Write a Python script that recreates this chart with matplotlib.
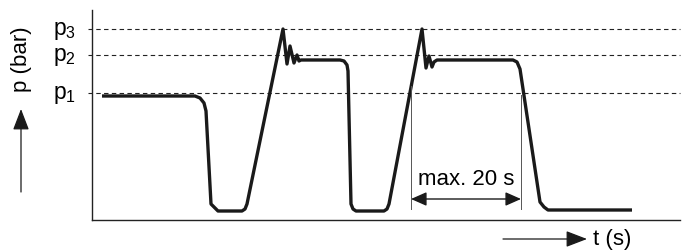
import matplotlib
matplotlib.use('Agg')
import matplotlib.pyplot as plt

plt.rcParams['font.family'] = ['Liberation Sans', 'DejaVu Sans']
plt.rcParams['mathtext.fontset'] = 'custom'
plt.rcParams['mathtext.rm'] = 'Liberation Sans'

# Pressure levels (arbitrary units) and their labels
level_values = [127, 165, 191]
level_labels = ['p$_\\mathregular{1}$', 'p$_\\mathregular{2}$', 'p$_\\mathregular{3}$']

# Pressure curve over time (arbitrary units)
t = [10, 103, 108, 112, 114, 119, 124, 126, 150, 153, 155,
     191, 195, 198, 202, 205, 207, 209, 248, 252, 255, 256,
     259, 261, 264, 292, 295, 297,
     330, 334, 337, 340, 342, 345, 421, 425, 428,
     448, 452, 456, 540]
p = [124, 124, 122, 117, 109, 16, 11, 9, 9, 11, 16,
     191, 156, 174, 157, 165, 159, 160, 160, 159, 155, 149,
     16, 11, 9, 9, 11, 16,
     191, 152, 164, 153, 158, 160, 160, 158, 151,
     18, 13, 10, 10]

# Dimension "max. 20 s"
dim_start, dim_end = 319, 429
dim_start_top, dim_end_top = 134, 125
dim_bottom = 11
dim_arrow_y = 21

fig = plt.figure(figsize=(6.85, 2.51), dpi=100)
ax = fig.add_axes([92 / 685, 30 / 251, 588 / 685, 210 / 251])
ax.set_xlim(0, 588)
ax.set_ylim(0, 210)

for s in ['top', 'right']:
    ax.spines[s].set_visible(False)
for s in ['left', 'bottom']:
    ax.spines[s].set_linewidth(1.0)
    ax.spines[s].set_color('#222222')
ax.set_xticks([])
ax.set_yticks([])

# dashed reference levels
for val, lab in zip(level_values, level_labels):
    ax.plot([-4, 588], [val, val], color='#222222', lw=0.8,
            linestyle=(0, (4, 3)), clip_on=False)
    ax.text(-16, val - 1, lab, ha='right', va='center', fontsize=16.5, clip_on=False)

# the pressure curve
ax.plot(t, p, color='#1a1a1a', lw=2.4, solid_joinstyle='round',
        solid_capstyle='butt')

# dimension lines
ax.plot([dim_start, dim_start], [dim_bottom, dim_start_top], color='#555555', lw=0.7)
ax.plot([dim_end, dim_end], [dim_bottom, dim_end_top], color='#555555', lw=0.7)
ax.annotate('', xy=(dim_start, dim_arrow_y), xytext=(dim_end, dim_arrow_y),
            arrowprops=dict(arrowstyle='<|-|>,head_length=0.95,head_width=0.42',
                            color='#1a1a1a', lw=1.0, shrinkA=0, shrinkB=0))
ax.text((dim_start + dim_end) / 2, 41, 'max. 20 s', ha='center', va='center',
        fontsize=16)

# axis arrows and labels
ax.annotate('', xy=(-71, 111), xytext=(-71, 28), annotation_clip=False,
            arrowprops=dict(arrowstyle='-|>,head_length=1.3,head_width=0.5',
                            color='#1a1a1a', lw=0.9, shrinkA=0, shrinkB=0))
ax.text(-70, 162, 'p (bar)', rotation=90, ha='center', va='center',
        fontsize=16, clip_on=False)

ax.annotate('', xy=(495, -19), xytext=(411, -19), annotation_clip=False,
            arrowprops=dict(arrowstyle='-|>,head_length=1.3,head_width=0.5',
                            color='#1a1a1a', lw=0.9, shrinkA=0, shrinkB=0))
ax.text(501, -19, 't (s)', ha='left', va='center', fontsize=16, clip_on=False)

fig.savefig('out.png', dpi=100)
